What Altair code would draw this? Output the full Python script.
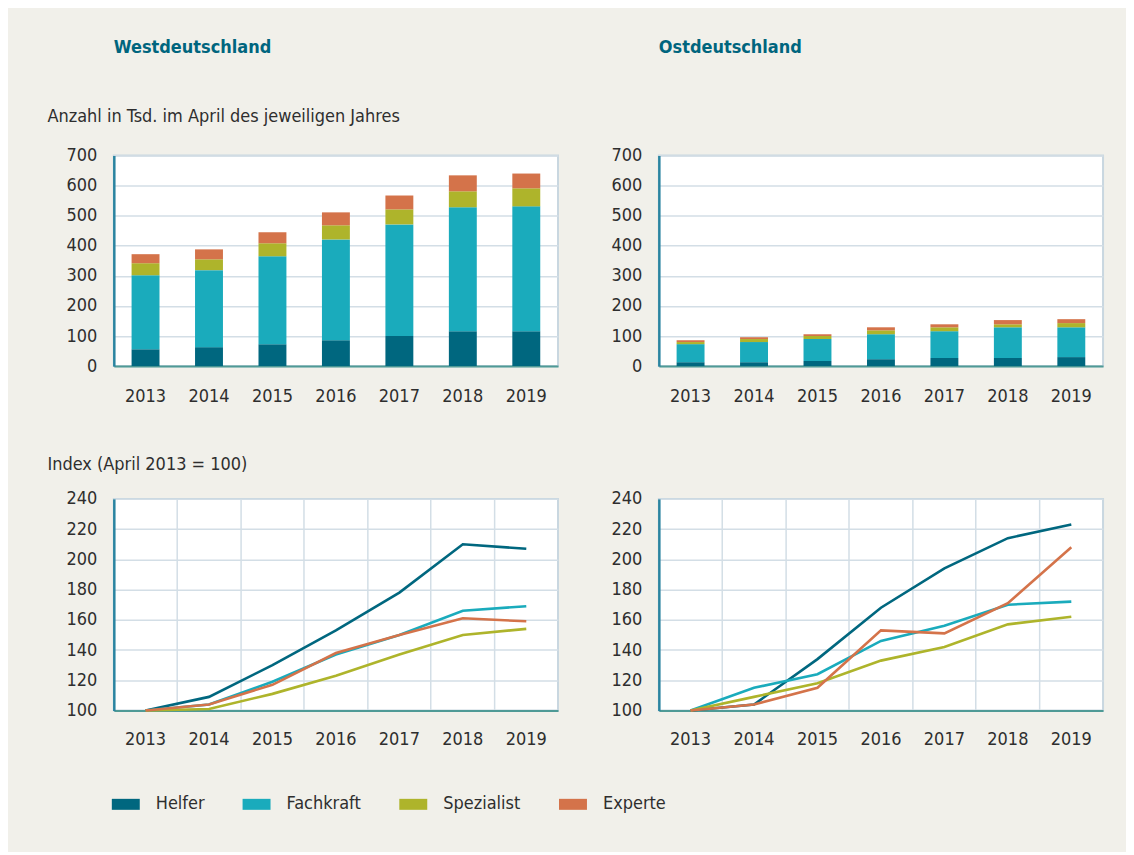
import altair as alt
import pandas as pd

years = ["2013", "2014", "2015", "2016", "2017", "2018", "2019"]
categories = ["Helfer", "Fachkraft", "Spezialist", "Experte"]
colors = ["#00677f", "#1aabbc", "#aeb42b", "#d4734a"]

# Anzahl in Tsd. (stacked bars)
west_helfer = [56, 63, 73, 86, 100, 116, 116]
west_fachkraft = [246, 256, 292, 335, 371, 412, 415]
west_spezialist = [40, 36, 43, 47, 50, 53, 60]
west_experte = [30, 33, 37, 43, 46, 53, 49]

east_helfer = [13, 13, 17, 23, 27, 27, 30]
east_fachkraft = [60, 67, 73, 83, 89, 102, 99]
east_spezialist = [7, 10, 10, 13, 13, 10, 14]
east_experte = [6, 6, 6, 10, 10, 14, 13]

# Index (April 2013 = 100)
west_idx_helfer = [100, 109, 130, 153, 178, 210, 207]
west_idx_fachkraft = [100, 104, 119, 137, 150, 166, 169]
west_idx_spezialist = [100, 101, 111, 123, 137, 150, 154]
west_idx_experte = [100, 104, 117, 138, 150, 161, 159]

east_idx_helfer = [100, 104, 134, 168, 194, 214, 223]
east_idx_fachkraft = [100, 115, 124, 146, 156, 170, 172]
east_idx_spezialist = [100, 109, 118, 133, 142, 157, 162]
east_idx_experte = [100, 104, 115, 153, 151, 171, 208]

bar_ticks = [0, 100, 200, 300, 400, 500, 600, 700]
idx_ticks = [100, 120, 140, 160, 180, 200, 220, 240]

FONT = "Liberation Sans Narrow, DejaVu Sans Condensed, Arial Narrow, sans-serif"
TEXT = "#2e2e2e"
TITLE_COLOR = "#00657e"
GRID = "#d3dee6"
YDOMAIN = "#2a84a0"
XDOMAIN = "#4f9a96"


def long_df(series):
    rows = []
    for ci, (cat, vals) in enumerate(zip(categories, series)):
        for yr, v in zip(years, vals):
            rows.append({"year": yr, "cat": cat, "ord": ci, "value": v})
    return pd.DataFrame(rows)


color_scale = alt.Scale(domain=categories, range=colors)

legend = alt.Legend(
    title=None, orient="none", legendX=-2, legendY=636, direction="horizontal",
    columns=4, symbolType="M-1,-0.393H1V0.393H-1Z", symbolSize=784,
    symbolStrokeWidth=0, symbolOpacity=1, labelFont=FONT, labelFontSize=18,
    labelColor=TEXT, labelOffset=16, columnPadding=38, padding=0,
)


def bar_chart(series, title, title_offset, ytitle, show_legend):
    df = long_df(series)
    yaxis_kw = dict(values=bar_ticks, ticks=False, tickSize=0, labelPadding=17,
                    domainColor=YDOMAIN, domainWidth=2.5, grid=True)
    if ytitle:
        yaxis_kw.update(title=ytitle, titleAngle=0, titleAlign="left",
                        titleBaseline="alphabetic", titleX=-67, titleY=-34)
    else:
        yaxis_kw.update(title=None)
    return alt.Chart(df).mark_bar().encode(
        x=alt.X("year:O", sort=years,
                scale=alt.Scale(paddingInner=0.56, paddingOuter=0.28),
                axis=alt.Axis(title=None, labelAngle=0, ticks=False, tickSize=0,
                              labelPadding=21, grid=False, domainColor=XDOMAIN,
                              domainWidth=2)),
        y=alt.Y("value:Q", stack="zero", scale=alt.Scale(domain=[0, 700]),
                axis=alt.Axis(**yaxis_kw)),
        color=alt.Color("cat:N", scale=color_scale,
                        legend=legend if show_legend else None),
        order=alt.Order("ord:Q", sort="ascending"),
    ).properties(
        width=445, height=211,
        title=alt.TitleParams(title, anchor="start", frame="group",
                              baseline="alphabetic", offset=title_offset),
    )


def line_chart(series, ytitle):
    df = long_df(series)
    yaxis_kw = dict(values=idx_ticks, ticks=False, tickSize=0, labelPadding=17,
                    domainColor=YDOMAIN, domainWidth=2.5, grid=True)
    if ytitle:
        yaxis_kw.update(title=ytitle, titleAngle=0, titleAlign="left",
                        titleBaseline="alphabetic", titleX=-67, titleY=-29)
    else:
        yaxis_kw.update(title=None)
    return alt.Chart(df).mark_line(strokeWidth=2.6).encode(
        x=alt.X("year:O", sort=years, bandPosition=0.5,
                scale=alt.Scale(type="band", paddingInner=0, paddingOuter=0),
                axis=alt.Axis(title=None, labelAngle=0, ticks=False, tickSize=0,
                              labelPadding=20, grid=True, bandPosition=0,
                              domainColor=XDOMAIN, domainWidth=2)),
        y=alt.Y("value:Q", scale=alt.Scale(domain=[100, 240]),
                axis=alt.Axis(**yaxis_kw)),
        color=alt.Color("cat:N", scale=color_scale, legend=None),
        order=alt.Order("ord:Q"),
        detail="cat:N",
    ).properties(width=445, height=212)


bw = bar_chart([west_helfer, west_fachkraft, west_spezialist, west_experte],
               "Westdeutschland", 37, "Anzahl in Tsd. im April des jeweiligen Jahres", True)
be = bar_chart([east_helfer, east_fachkraft, east_spezialist, east_experte],
               "Ostdeutschland", 76, None, False)
lw = line_chart([west_idx_helfer, west_idx_fachkraft, west_idx_spezialist, west_idx_experte],
                "Index  (April 2013 = 100)")
le = line_chart([east_idx_helfer, east_idx_fachkraft, east_idx_spezialist, east_idx_experte],
                None)

chart = alt.concat(bw, be, lw, le, columns=2,
                   spacing={"row": 49, "column": 51}).properties(
    padding={"left": 38, "top": 29, "right": 22, "bottom": 38},
    background="#f1f0ea",
).configure_view(
    fill="white", stroke="#c9d7e0", strokeWidth=2,
).configure_axis(
    labelFont=FONT, labelFontSize=18, labelColor=TEXT,
    titleFont=FONT, titleFontSize=18, titleColor=TEXT, titleFontWeight="normal",
    gridColor=GRID, gridWidth=1.5,
).configure_title(
    font=FONT, fontSize=18, fontWeight="bold", color=TITLE_COLOR,
)

chart.save("out.html", embed_options={"renderer": "svg", "actions": False})
